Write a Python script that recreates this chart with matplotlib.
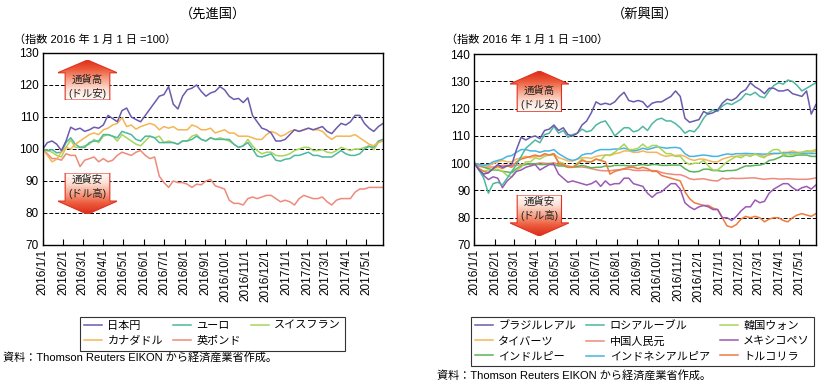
import numpy as np
import pandas as pd
import matplotlib
matplotlib.use("Agg")
from matplotlib import pyplot as plt
from matplotlib.patches import Polygon
from matplotlib.colors import LinearSegmentedColormap

plt.rcParams["font.family"] = ["Liberation Sans", "Noto Sans CJK JP"]

# weekly samples, 2016/1/1 .. 2017/5/26 (index 2016/1/1 = 100)
dates = pd.date_range("2016-01-01", periods=74, freq="7D")

# --- advanced economies ---
jpy = [100, 102.0, 102.5, 101.5, 99.5, 102.5, 106.8, 106.0, 106.5, 105.5,
       106.0, 106.8, 106.5, 107.5, 110.5, 109.5, 108.5, 112.0, 112.8, 110.0,
       109.2, 108.5, 110.5, 112.5, 114.5, 116.5, 117.0, 119.5, 114.0, 112.5,
       116.5, 118.5, 119.0, 120.0, 118.0, 116.5, 117.5, 118.0, 119.5, 118.5,
       116.5, 115.5, 115.8, 114.5, 116.0, 110.5, 108.5, 106.5, 106.0, 105.0,
       102.5, 102.5, 103.0, 104.5, 106.0, 105.5, 106.0, 106.5, 106.0, 106.5,
       107.0, 105.5, 104.8, 106.5, 108.0, 107.5, 108.5, 110.5, 110.5, 108.0,
       106.5, 105.5, 107.0, 108.0]
eur = [100, 99.5, 99.8, 98.8, 99.0, 102.0, 103.5, 101.5, 100.5, 100.5,
       102.0, 102.5, 102.5, 104.5, 104.5, 104.0, 103.5, 105.5, 105.0, 104.5,
       103.0, 102.5, 104.0, 104.0, 103.5, 102.0, 102.0, 102.0, 102.0, 101.5,
       102.5, 102.5, 103.0, 104.0, 103.0, 102.5, 103.5, 103.0, 103.0, 103.0,
       103.0, 101.5, 100.5, 101.0, 102.0, 100.0, 97.8, 97.5, 98.0, 98.5,
       96.5, 96.2, 96.8, 97.0, 98.0, 98.0, 98.5, 99.0, 98.0, 98.0,
       97.5, 97.5, 97.5, 98.5, 99.5, 98.5, 98.0, 98.0, 98.5, 100.0,
       100.8, 100.5, 102.5, 103.0]
chf = [100, 99.5, 99.0, 98.0, 97.5, 100.5, 102.8, 100.5, 100.5, 101.0,
       101.5, 103.0, 102.0, 104.0, 104.5, 104.0, 102.5, 104.5, 103.5, 102.5,
       101.5, 101.0, 102.5, 104.0, 103.5, 104.0, 102.0, 102.5, 102.0, 101.5,
       102.5, 102.5, 104.0, 104.5, 103.0, 102.5, 103.5, 103.0, 103.5, 103.0,
       102.5, 101.5, 100.5, 101.0, 103.0, 101.0, 99.5, 98.5, 99.0, 99.0,
       98.0, 97.8, 98.0, 98.5, 99.5, 100.0, 100.5, 100.5, 99.5, 99.5,
       99.8, 99.0, 98.8, 99.5, 100.5, 100.0, 99.5, 100.0, 100.0, 100.5,
       101.0, 99.8, 102.0, 103.0]
cad = [100, 98.0, 96.0, 96.8, 99.0, 100.5, 100.0, 101.5, 102.5, 103.5,
       104.5, 105.0, 104.5, 106.0, 106.5, 107.5, 108.0, 109.8, 107.0, 107.5,
       106.2, 107.0, 107.5, 108.0, 107.5, 106.0, 107.0, 106.5, 107.0, 106.0,
       106.0, 106.0, 107.5, 107.0, 106.0, 106.0, 106.5, 105.0, 105.5, 106.0,
       105.0, 105.0, 104.0, 104.0, 104.0, 103.5, 103.0, 103.0, 104.5, 105.5,
       105.0, 104.0, 104.5, 105.5, 106.0, 105.5, 106.0, 106.5, 106.0, 106.0,
       105.5, 104.0, 103.0, 104.0, 104.0, 104.0, 104.0, 104.5, 103.5, 102.5,
       101.5, 101.0, 102.0, 102.5]
gbp = [100, 98.5, 97.0, 97.0, 96.5, 98.5, 98.0, 98.0, 94.5, 96.5,
       97.0, 97.5, 96.0, 97.0, 96.0, 96.5, 98.0, 99.0, 98.5, 98.0,
       99.0, 99.5, 98.0, 97.0, 97.5, 91.5, 89.5, 88.0, 90.0, 89.5,
       89.5, 89.0, 88.0, 89.0, 88.8, 90.0, 90.5, 88.5, 88.0, 87.5,
       84.0, 83.0, 83.0, 82.5, 84.5, 85.0, 84.5, 85.0, 85.5, 85.5,
       84.5, 83.5, 84.0, 83.5, 82.5, 84.5, 85.5, 85.0, 84.5, 84.5,
       85.0, 83.5, 82.5, 84.0, 84.5, 84.5, 84.5, 86.5, 87.5, 87.5,
       88.0, 88.0, 88.0, 88.0]

# --- emerging economies ---
brl = [100, 97.5, 96.0, 96.5, 98.0, 99.5, 98.5, 99.0, 99.5, 105.0,
       109.5, 108.5, 109.5, 110.0, 109.0, 112.0, 112.5, 114.0, 112.0, 113.0,
       110.5, 110.0, 111.0, 114.0, 115.5, 118.5, 122.5, 121.5, 122.0, 121.5,
       122.5, 124.5, 126.0, 123.0, 122.5, 123.0, 122.5, 120.5, 122.0, 122.5,
       122.5, 123.5, 124.5, 126.5, 124.5, 116.5, 115.0, 115.5, 116.0, 119.0,
       118.0, 118.5, 119.5, 122.0, 123.5, 123.0, 124.0, 126.0, 127.0, 129.5,
       128.0, 127.0, 125.5, 127.5, 127.5, 126.5, 126.5, 127.0, 125.5, 125.0,
       124.5, 126.5, 118.0, 121.5]
rub = [100, 97.5, 94.5, 89.0, 92.5, 93.0, 92.0, 94.5, 97.0, 99.5,
       102.5, 105.5, 107.0, 108.5, 107.5, 110.5, 111.0, 113.5, 111.0, 112.0,
       109.5, 110.5, 111.0, 112.5, 111.5, 112.0, 114.0, 115.0, 115.5, 113.0,
       110.0, 111.5, 113.0, 113.0, 111.5, 112.0, 113.5, 112.0, 114.5, 116.0,
       116.5, 115.5, 115.5, 114.5, 113.0, 111.0, 112.0, 111.5, 113.5, 116.5,
       118.5, 119.5, 119.0, 121.0, 122.0, 121.5, 122.5, 123.5, 125.5, 125.0,
       126.0, 124.5, 124.0, 126.5, 128.5, 129.5, 129.0, 130.5, 130.0, 128.5,
       126.5, 127.5, 128.5, 129.5]
krw = [100, 98.0, 97.0, 97.5, 97.5, 97.8, 97.0, 95.5, 95.0, 97.5,
       98.5, 100.5, 100.5, 102.0, 101.5, 102.5, 103.0, 103.0, 100.5, 100.0,
       98.5, 98.5, 100.0, 101.5, 100.5, 100.5, 101.5, 101.0, 103.0, 103.0,
       104.0, 105.5, 107.0, 105.0, 105.0, 105.5, 107.0, 105.5, 106.5, 106.5,
       105.0, 103.5, 103.5, 102.5, 102.5, 100.5, 99.5, 100.0, 100.0, 101.0,
       99.0, 97.5, 97.5, 99.0, 100.5, 101.5, 102.5, 102.0, 103.0, 102.5,
       103.5, 102.5, 102.0, 104.0, 105.0, 105.0, 103.0, 103.5, 103.0, 103.5,
       104.0, 104.5, 104.5, 105.0]
thb = [100, 99.5, 99.0, 99.0, 99.8, 100.5, 101.0, 100.5, 100.5, 101.5,
       102.0, 102.5, 102.0, 102.5, 102.5, 103.0, 103.0, 103.5, 102.0, 101.5,
       100.8, 100.8, 101.5, 102.0, 102.0, 101.8, 102.5, 102.8, 103.0, 102.8,
       103.5, 103.8, 104.5, 104.5, 104.0, 104.0, 104.5, 104.0, 104.0, 104.0,
       103.0, 102.5, 102.8, 102.8, 103.0, 102.5, 101.5, 101.0, 101.5, 101.5,
       101.0, 100.5, 100.5, 101.5, 102.0, 102.5, 102.5, 102.8, 103.0, 102.8,
       103.2, 103.0, 102.5, 103.0, 103.5, 103.5, 104.0, 104.0, 104.5, 104.0,
       104.0, 104.5, 104.0, 104.5]
cny = [100, 98.8, 98.6, 98.6, 98.6, 98.8, 99.2, 99.2, 99.0, 99.2,
       99.5, 99.8, 99.5, 99.8, 100.1, 100.0, 99.9, 100.2, 99.5, 99.3,
       99.0, 98.7, 98.6, 98.6, 98.4, 98.0, 97.6, 97.3, 97.2, 97.2,
       97.5, 97.6, 97.8, 97.8, 97.4, 97.3, 97.4, 97.3, 97.3, 97.2,
       96.6, 96.2, 96.0, 95.8, 95.8, 95.2, 94.3, 94.0, 94.2, 94.3,
       93.9, 93.6, 93.5, 94.5, 94.2, 94.5, 94.4, 94.4, 94.5, 94.6,
       94.6, 94.3, 94.1, 94.3, 94.4, 94.2, 94.2, 94.3, 94.2, 94.1,
       94.1, 94.1, 94.3, 94.6]
mxn = [100, 97.5, 95.5, 94.0, 95.0, 94.5, 91.0, 93.5, 95.0, 97.0,
       97.5, 98.5, 99.0, 99.5, 97.5, 98.5, 99.5, 99.5, 96.0, 94.5,
       93.0, 93.5, 93.0, 92.5, 92.0, 92.5, 93.5, 91.5, 93.5, 92.0,
       92.5, 92.5, 94.5, 94.5, 92.5, 92.0, 91.5, 89.0, 87.5, 89.0,
       89.5, 91.0, 92.5, 92.5, 90.5, 85.5, 84.0, 83.0, 84.0, 84.5,
       84.0, 83.0, 83.0, 80.0, 80.0, 79.0, 80.5, 82.5, 84.0, 84.0,
       86.5, 85.5, 86.0, 89.0, 90.5, 91.5, 92.5, 92.5, 91.0, 90.0,
       91.0, 91.5, 90.5, 92.0]
inr = [100, 99.5, 98.5, 98.0, 97.5, 97.5, 97.0, 96.8, 96.5, 98.0,
       99.0, 99.5, 99.8, 99.8, 99.5, 99.5, 99.8, 99.5, 99.0, 99.0,
       98.5, 98.5, 98.8, 99.2, 98.8, 98.3, 98.5, 98.5, 99.0, 98.8,
       99.2, 99.2, 99.2, 99.0, 99.0, 99.3, 99.5, 99.2, 99.5, 99.5,
       99.2, 99.2, 99.3, 99.3, 99.3, 98.0, 97.0, 96.8, 97.0, 97.8,
       97.8, 97.3, 97.3, 97.0, 97.3, 97.3, 97.5, 98.3, 99.0, 99.0,
       99.2, 99.3, 99.8, 101.0, 101.3, 102.0, 102.8, 102.5, 102.5, 103.0,
       103.0, 103.0, 102.5, 102.5]
idr = [100, 99.5, 99.3, 99.5, 100.5, 101.0, 101.5, 102.5, 102.8, 104.0,
       105.0, 105.0, 104.5, 104.5, 104.0, 104.5, 104.5, 105.0, 103.5, 102.5,
       101.5, 101.0, 101.5, 103.0, 103.5, 103.5, 104.5, 105.0, 105.0, 105.0,
       105.2, 105.2, 105.5, 105.0, 104.5, 104.8, 105.5, 105.0, 105.5, 106.0,
       105.8, 105.5, 105.7, 105.8, 105.5, 103.5, 102.5, 102.5, 102.8, 103.0,
       102.8, 102.5, 102.5, 103.0, 103.4, 103.2, 103.5, 103.5, 103.6, 103.5,
       103.5, 103.4, 103.3, 103.5, 103.6, 103.6, 103.7, 103.8, 103.8, 103.7,
       103.6, 103.7, 103.5, 103.6]
try_ = [100, 98.0, 97.0, 96.5, 98.0, 98.8, 98.0, 99.0, 98.5, 100.5,
        101.5, 102.0, 102.5, 103.0, 102.5, 103.5, 103.0, 103.5, 100.0, 99.5,
        98.5, 98.5, 99.5, 101.0, 100.5, 100.5, 101.5, 101.0, 100.5, 96.0,
        97.0, 97.5, 98.0, 98.5, 98.5, 98.0, 98.5, 98.0, 97.0, 97.0,
        95.5, 95.0, 94.5, 94.0, 93.5, 89.5, 87.0, 85.5, 85.0, 84.5,
        84.5, 83.5, 83.0, 80.0, 77.0, 76.5, 77.5, 79.5, 80.5, 80.0,
        80.5, 80.0, 78.5, 79.5, 80.0, 80.0, 79.0, 78.5, 80.0, 81.0,
        81.5, 81.0, 80.5, 81.5]

left_series = [("日本円", jpy, "#6A5BAE"), ("カナダドル", cad, "#F5B555"),
               ("ユーロ", eur, "#4DB8A0"), ("英ポンド", gbp, "#EE8A7A"),
               ("スイスフラン", chf, "#A8D55A")]
right_series = [("ブラジルレアル", brl, "#6A5BAE"), ("タイバーツ", thb, "#F5B555"),
                ("インドルピー", inr, "#5AB45A"), ("ロシアルーブル", rub, "#4DB8A0"),
                ("中国人民元", cny, "#EE8A7A"), ("インドネシアルピア", idr, "#46B4E6"),
                ("韓国ウォン", krw, "#A8D55A"), ("メキシコペソ", mxn, "#9B59B6"),
                ("トルコリラ", try_, "#EE7A40")]
# draw order (front-most last)
left_draw = ["英ポンド", "スイスフラン", "ユーロ", "カナダドル", "日本円"]
right_draw = ["中国人民元", "インドルピー", "タイバーツ", "インドネシアルピア", "韓国ウォン",
              "トルコリラ", "メキシコペソ", "ロシアルーブル", "ブラジルレアル"]

month_ticks = pd.date_range("2016-01-01", "2017-05-01", freq="MS")
month_labels = [f"{d.year}/{d.month}/1" for d in month_ticks]

arrow_cmap = LinearSegmentedColormap.from_list(
    "arr", ["#FFFFFF", "#FDE3D8", "#F6A48A", "#EC5A3A", "#DA2A1C"])


def draw_arrow(ax, rect, up, text):
    sub = ax.inset_axes(rect)
    sub.set_xlim(0, 1)
    sub.set_ylim(0, 1)
    sub.axis("off")
    h = 0.32
    if up:
        pts = [(0.125, 0), (0.875, 0), (0.875, 1 - h), (1, 1 - h), (0.5, 1),
               (0, 1 - h), (0.125, 1 - h)]
        ty = (1 - h) / 2
    else:
        pts = [(0.125, 1), (0.875, 1), (0.875, h), (1, h), (0.5, 0),
               (0, h), (0.125, h)]
        ty = h + (1 - h) / 2
    poly = Polygon(pts, closed=True, fc="none", ec="#E3301F", lw=0.8, zorder=3)
    sub.add_patch(poly)
    grad = np.linspace(0, 1, 256).reshape(-1, 1)
    if not up:
        grad = grad[::-1]
    im = sub.imshow(grad, extent=[0, 1, 0, 1], origin="lower", cmap=arrow_cmap,
                    aspect="auto", zorder=1)
    im.set_clip_path(poly)
    sub.text(0.5, ty, text, ha="center", va="center", fontsize=7.5,
             color="#222222", linespacing=1.35, zorder=4)


def setup(ax, ymax):
    ax.set_xlim(dates[0], dates[-1])
    ax.set_ylim(70, ymax)
    ax.set_yticks(np.arange(70, ymax + 1, 10))
    ax.yaxis.grid(True, ls=(0, (4, 2)), color="black", lw=0.7)
    ax.set_axisbelow(True)
    ax.tick_params(axis="y", length=0, labelsize=8.5, pad=3)
    ax.set_xticks(month_ticks)
    ax.set_xticklabels(month_labels, rotation=90, va="top", ha="center",
                       fontsize=8.5)
    ax.tick_params(axis="x", direction="in", length=4, width=0.8, pad=3)
    for s in ax.spines.values():
        s.set_linewidth(1.0)


def add_legend(ax, series, center_x):
    handles = {l.get_label(): l for l in ax.get_lines()}
    names = [n for n, _, _ in series]
    leg = ax.legend([handles[n] for n in names], names, ncol=3,
                    loc="upper center", bbox_to_anchor=(center_x, 1 - 311 / 384),
                    bbox_transform=fig.transFigure, fontsize=8, frameon=True,
                    fancybox=False, edgecolor="black", handlelength=1.6,
                    columnspacing=0.9, handletextpad=0.5, borderpad=0.4,
                    labelspacing=0.45)
    leg.get_frame().set_linewidth(0.8)


fig = plt.figure(figsize=(8.25, 3.84), dpi=100)
ax1 = fig.add_axes([0.0518, 0.362, 0.4125, 0.5])
ax2 = fig.add_axes([0.575, 0.362, 0.414, 0.497])

lookup = {n: (v, c) for n, v, c in left_series}
for name in left_draw:
    v, c = lookup[name]
    ax1.plot(dates, v, color=c, lw=1.1, label=name)
lookup = {n: (v, c) for n, v, c in right_series}
for name in right_draw:
    v, c = lookup[name]
    ax2.plot(dates, v, color=c, lw=1.1, label=name)

setup(ax1, 130)
setup(ax2, 140)

add_legend(ax1, left_series, 0.2576)
add_legend(ax2, right_series, 0.7788)

# arrows
draw_arrow(ax1, [0.044, 0.755, 0.175, 0.2085], True, "通貨高\n(ドル安)")
draw_arrow(ax1, [0.044, 0.16, 0.175, 0.215], False, "通貨安\n(ドル高)")
draw_arrow(ax2, [0.1037, 0.698, 0.173, 0.214], True, "通貨高\n(ドル安)")
draw_arrow(ax2, [0.1037, 0.047, 0.173, 0.215], False, "通貨安\n(ドル高)")

# titles and notes
fig.text(213 / 825, 1 - 14 / 384, "（先進国）", ha="center", va="center", fontsize=9.5)
fig.text(645 / 825, 1 - 14 / 384, "（新興国）", ha="center", va="center", fontsize=9.5)
fig.text(14 / 825, 1 - 40 / 384, "（指数 2016 年 1 月 1 日 =100）", ha="left",
         va="center", fontsize=8)
fig.text(446 / 825, 1 - 40 / 384, "（指数 2016 年 1 月 1 日 =100）", ha="left",
         va="center", fontsize=8)
fig.text(3 / 825, 1 - 357 / 384, "資料：Thomson Reuters EIKON から経済産業省作成。",
         ha="left", va="center", fontsize=8)
fig.text(437 / 825, 1 - 375 / 384, "資料：Thomson Reuters EIKON から経済産業省作成。",
         ha="left", va="center", fontsize=8)

fig.savefig("out.png", dpi=100)
